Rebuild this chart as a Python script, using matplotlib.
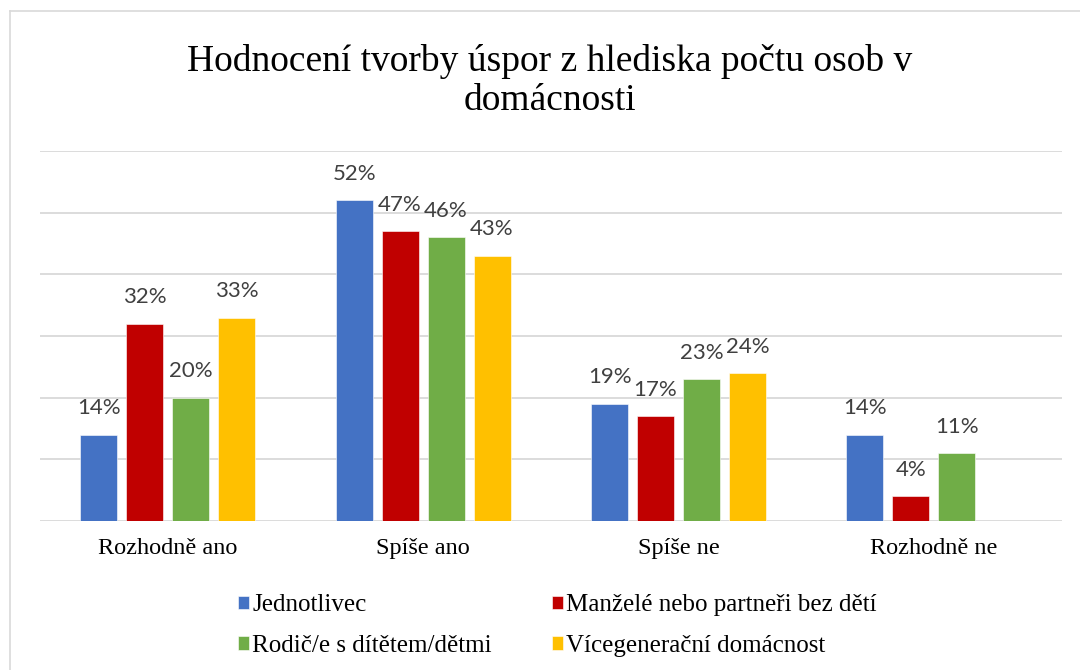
import numpy as np
import matplotlib.pyplot as plt
from matplotlib.lines import Line2D

categories = ["Rozhodně ano", "Spíše ano", "Spíše ne", "Rozhodně ne"]
series_names = ["Jednotlivec", "Manželé nebo partneři bez dětí",
                "Rodič/e s dítětem/dětmi", "Vícegenerační domácnost"]
jednotlivec = [14, 52, 19, 14]
manzele = [32, 47, 17, 4]
rodice = [20, 46, 23, 11]
vicegen = [33, 43, 24, None]
colors = ["#4472C4", "#C00000", "#70AD47", "#FFC000"]

serif = ["Liberation Serif", "DejaVu Serif"]
sans = ["Lato", "DejaVu Sans"]

fig = plt.figure(figsize=(10.8, 6.7), dpi=100)
ax = fig.add_axes([0.037, 0.2224, 0.946, 0.5522])

x = np.arange(len(categories))
width = 0.145
step = 0.18
handles = []
for i, (vals, name, c) in enumerate(zip([jednotlivec, manzele, rodice, vicegen], series_names, colors)):
    pos = x + (i - 1.5) * step
    h = [v if v is not None else 0 for v in vals]
    bars = ax.bar(pos, h, width, color=c, edgecolor="white", linewidth=0.4, label=name)
    handles.append(bars)
    for p, v in zip(pos, vals):
        if v is None:
            continue
        ax.annotate(f"{v}%", (p, v), xytext=(0, 19), textcoords="offset points",
                    ha="center", va="center", fontsize=16, color="#404040", family=sans)

ax.set_xlim(-0.5, 3.5)
ax.set_ylim(0, 60)
ax.set_yticks(np.arange(0, 61, 10))
ax.yaxis.grid(True, color="#D9D9D9", linewidth=1.3)
ax.set_axisbelow(True)
ax.tick_params(axis="y", left=False, labelleft=False)
ax.tick_params(axis="x", bottom=False, pad=9)
ax.set_xticks(x)
ax.set_xticklabels(categories, fontsize=17.5, family=serif)
for s in ax.spines.values():
    s.set_visible(False)

fig.text(0.509, 0.879, "Hodnocení tvorby úspor z hlediska počtu osob v\ndomácnosti",
         ha="center", va="center", fontsize=27, family=serif, linespacing=1.15)

# legend: column-wise order
order = [0, 2, 1, 3]
leg = fig.legend([handles[k] for k in order], [series_names[k] for k in order],
                 ncol=2, loc="upper left", bbox_to_anchor=(0.211, 0.128),
                 frameon=False, prop={"family": serif, "size": 18},
                 handlelength=0.45, handleheight=0.45, handletextpad=0.12,
                 columnspacing=2.4, labelspacing=0.75, borderaxespad=0)

# chart border (left and top)
fig.add_artist(Line2D([0.0095, 0.0095], [0, 0.9836], color="#D9D9D9", linewidth=1.2))
fig.add_artist(Line2D([0.0095, 1.0], [0.9836, 0.9836], color="#D9D9D9", linewidth=1.2))

fig.savefig("out.png", dpi=100)
